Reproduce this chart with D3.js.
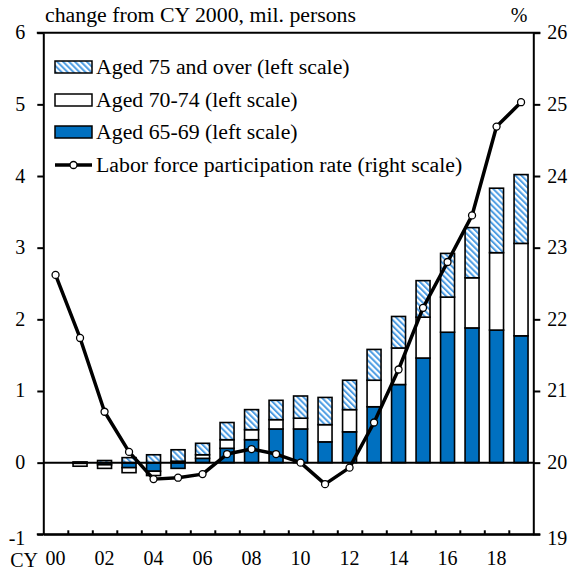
<!DOCTYPE html>
<html>
<head>
<meta charset="utf-8">
<script src="https://cdn.jsdelivr.net/npm/d3@7"></script>
<style>
  body { margin: 0; background: #fff; }
  svg, svg text { font-family: "Liberation Serif", "DejaVu Serif", serif; fill: #000; }
</style>
</head>
<body>
<svg id="chart" width="575" height="573"></svg>
<script>
  // calendar years 2000-2019
  var years = ["00","01","02","03","04","05","06","07","08","09","10","11","12","13","14","15","16","17","18","19"];
  // change from CY 2000, mil. persons
  var aged6569 = [0, -0.01, -0.03, -0.07, -0.12, -0.08, 0.06, 0.20, 0.32, 0.47, 0.47, 0.29, 0.43, 0.78, 1.09, 1.46, 1.82, 1.88, 1.85, 1.77];
  var aged7074 = [0, -0.04, -0.05, -0.07, -0.06, 0.02, 0.05, 0.12, 0.14, 0.13, 0.15, 0.24, 0.31, 0.37, 0.51, 0.57, 0.49, 0.70, 1.08, 1.29];
  var aged75 = [0, 0.01, 0.03, 0.07, 0.11, 0.16, 0.16, 0.24, 0.28, 0.27, 0.31, 0.38, 0.41, 0.43, 0.44, 0.51, 0.61, 0.70, 0.90, 0.96];
  // labor force participation rate, %
  var lfpr = [22.62, 21.74, 20.71, 20.15, 19.77, 19.79, 19.84, 20.12, 20.19, 20.12, 20.0, 19.70, 19.93, 20.56, 21.30, 22.16, 22.80, 23.45, 24.69, 25.03];
  var leftTicks = [-1, 0, 1, 2, 3, 4, 5, 6];
  var rightTicks = [19, 20, 21, 22, 23, 24, 25, 26];
  var xLabels = ["00","02","04","06","08","10","12","14","16","18"];
  var legendLabels = ["Aged 75 and over (left scale)", "Aged 70-74 (left scale)", "Aged 65-69 (left scale)", "Labor force participation rate (right scale)"];

  var svg = d3.select("#chart");
  var pLeft = 43.3, pRight = 533.3, pTop = 32.7, pBottom = 534.3;
  var blue = "#0070c0";
  var fs = "20px";
  var ff = "'Liberation Serif', 'DejaVu Serif', serif";

  // stretch a text a little, the original face is wider than Liberation Serif
  function widen(sel, k){
    sel.each(function(){
      var w = this.getComputedTextLength();
      d3.select(this).attr("textLength", w*k).attr("lengthAdjust","spacingAndGlyphs");
    });
  }

  var defs = svg.append("defs");
  var pat = defs.append("pattern").attr("id","hatch").attr("patternUnits","userSpaceOnUse")
    .attr("width",4.2).attr("height",4.2).attr("patternTransform","rotate(-45)");
  pat.append("rect").attr("width",4.2).attr("height",4.2).attr("fill","#fff");
  pat.append("line").attr("x1",1).attr("x2",1).attr("y1",0).attr("y2",4.2)
    .attr("stroke","#4e9de3").attr("stroke-width",2);

  var x = d3.scaleBand().domain(years).range([pLeft,pRight]).paddingInner(0.43).paddingOuter(0.215);
  var xb = d3.scaleLinear().domain([0,20]).range([pLeft,pRight]);
  var yL = d3.scaleLinear().domain([-1,6]).range([pBottom,pTop]);
  var yR = d3.scaleLinear().domain([19,26]).range([pBottom,pTop]);

  var table = years.map(function(y,i){ return {year:y, a:aged6569[i], b:aged7074[i], c:aged75[i]}; });
  var stack = d3.stack().keys(["a","b","c"]).offset(d3.stackOffsetDiverging);
  var series = stack(table);
  var fills = {a: blue, b: "#fff", c: "url(#hatch)"};

  series.forEach(function(s){
    svg.append("g").selectAll("rect").data(s.filter(function(d){ return d[0] != d[1]; }))
      .enter().append("rect")
      .attr("x", function(d){ return x(d.data.year); })
      .attr("width", x.bandwidth())
      .attr("y", function(d){ return yL(Math.max(d[0],d[1])); })
      .attr("height", function(d){ return Math.abs(yL(d[0]) - yL(d[1])); })
      .attr("fill", fills[s.key])
      .attr("stroke","#000").attr("stroke-width",1.6);
  });

  // zero line
  svg.append("line").attr("x1",pLeft).attr("x2",pRight).attr("y1",yL(0)).attr("y2",yL(0))
    .attr("stroke","#000").attr("stroke-width",2);

  // axes
  var plain = function(d){ return String(d); };
  var gl = svg.append("g").attr("transform","translate("+pLeft+",0)")
    .call(d3.axisLeft(yL).tickValues(leftTicks).tickSize(6).tickSizeOuter(0).tickFormat(plain));
  var gr = svg.append("g").attr("transform","translate("+pRight+",0)")
    .call(d3.axisRight(yR).tickValues(rightTicks).tickSize(7).tickSizeOuter(0).tickFormat(plain));
  var gb = svg.append("g").attr("transform","translate(0,"+pBottom+")")
    .call(d3.axisBottom(xb).tickValues(d3.range(1,20)).tickSize(-4).tickSizeOuter(0).tickFormat(""));
  var gx = svg.append("g").attr("transform","translate(0,"+pBottom+")")
    .call(d3.axisBottom(x).tickValues(xLabels).tickSize(0).tickPadding(17));
  gx.select(".domain").remove();
  [gl,gr,gb].forEach(function(g){
    g.selectAll("path,line").attr("stroke","#000").attr("stroke-width",2);
  });
  [gl,gr,gx].forEach(function(g){
    g.attr("font-family",ff).attr("font-size",fs);
    g.selectAll("text").style("font-family",ff).style("font-size",fs);
  });
  gl.selectAll("text").attr("x",-18).attr("dy","0.3em");
  gl.selectAll(".tick").filter(function(d){ return d == -1; }).select("text").attr("dy","0.5em");
  gr.selectAll("text").attr("x",14).attr("dy","0.3em");
  gr.selectAll(".tick").filter(function(d){ return d == 19; }).select("text").attr("dy","0.5em");
  svg.append("line").attr("x1",pLeft-6.5).attr("x2",pRight+7).attr("y1",pTop).attr("y2",pTop)
    .attr("stroke","#000").attr("stroke-width",2);
  svg.append("line").attr("x1",pLeft-6.5).attr("x2",pRight+7).attr("y1",pBottom).attr("y2",pBottom)
    .attr("stroke","#000").attr("stroke-width",2);
  svg.append("text").attr("x",38).attr("y",567).attr("text-anchor","end")
    .style("font-family",ff).style("font-size",fs).text("CY");

  var title = svg.append("text").attr("x",45).attr("y",22)
    .style("font-family",ff).style("font-size",fs).text("change from CY 2000, mil. persons");
  widen(title, 1.09);
  svg.append("text").attr("x",519).attr("y",22).attr("text-anchor","middle")
    .style("font-family",ff).style("font-size",fs).text("%");

  // line
  var cx = function(d,i){ return x(years[i]) + x.bandwidth()/2; };
  svg.append("path").datum(lfpr)
    .attr("d", d3.line().x(cx).y(function(d){ return yR(d); }))
    .attr("fill","none").attr("stroke","#000").attr("stroke-width",3.5).attr("stroke-linejoin","round");
  svg.append("g").selectAll("circle").data(lfpr).enter().append("circle")
    .attr("cx",cx).attr("cy",function(d){ return yR(d); }).attr("r",3.5)
    .attr("fill","#fff").attr("stroke","#000").attr("stroke-width",1.3);

  // legend
  var legY = [67, 100, 132, 165];
  var legFill = ["url(#hatch)", "#fff", blue];
  for (var i=0; i<legendLabels.length; i++) {
    if (i < 3) {
      svg.append("rect").attr("x",55).attr("y",legY[i]-6).attr("width",37).attr("height",12)
        .attr("fill",legFill[i]).attr("stroke","#000").attr("stroke-width",1.5);
    } else {
      svg.append("line").attr("x1",55).attr("x2",92).attr("y1",legY[i]).attr("y2",legY[i])
        .attr("stroke","#000").attr("stroke-width",3.5);
      svg.append("circle").attr("cx",73.5).attr("cy",legY[i]).attr("r",3.5)
        .attr("fill","#fff").attr("stroke","#000").attr("stroke-width",1.3);
    }
    var t = svg.append("text").attr("x",96).attr("y",legY[i]).attr("dy","0.35em")
      .style("font-family",ff).style("font-size",fs).text(legendLabels[i]);
    widen(t, 1.09);
  }
</script>
</body>
</html>
